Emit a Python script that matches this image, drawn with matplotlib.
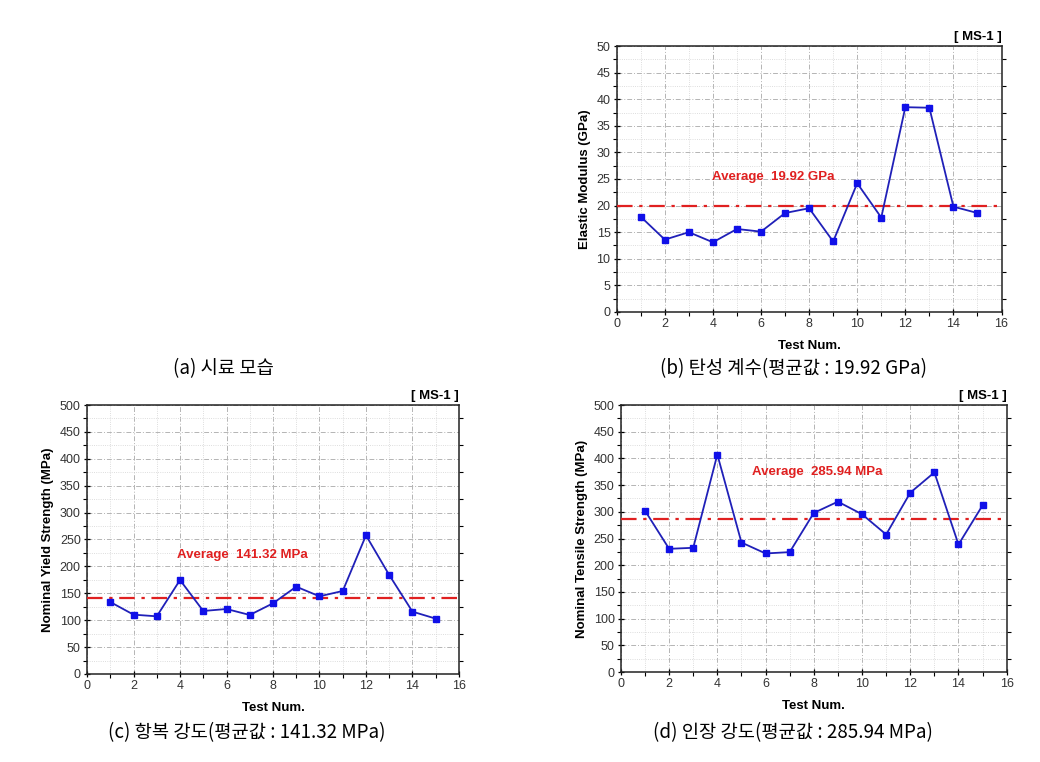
import numpy as np
import matplotlib.pyplot as plt
from matplotlib.ticker import MultipleLocator

plt.rcParams['font.family'] = ['Liberation Sans', 'DejaVu Sans']

# data
test_num = list(range(1, 16))
elastic_gpa = [17.9, 13.6, 15.0, 13.1, 15.6, 15.1, 18.6, 19.5, 13.25, 24.2, 17.75, 38.5, 38.4, 19.8, 18.6]
yield_mpa = [133.8, 110.3, 107.2, 174.7, 117.1, 120.8, 109.7, 131.4, 162.3, 144.4, 154.3, 257.7, 184.0, 115.9, 102.9]
tensile_mpa = [302.2, 230.7, 232.6, 407.3, 242.5, 222.0, 224.5, 297.9, 319.0, 295.4, 257.5, 335.8, 373.8, 238.8, 312.2]
avg_elastic = 19.92
avg_yield = 141.32
avg_tensile = 285.94

captions = ['(a) 시료 모습',
            '(b) 탄성 계수(평균값 : 19.92 GPa)',
            '(c) 항복 강도(평균값 : 141.32 MPa)',
            '(d) 인장 강도(평균값 : 285.94 MPa)']

kfont = ['Noto Sans CJK KR', 'DejaVu Sans']

fig = plt.figure(figsize=(10.4, 7.62), dpi=100)


def panel(rect, values, avg, ymax, ystep, ylabel, avg_text, text_xy):
    ax = fig.add_axes(rect)
    ax.plot(test_num, values, color='#2020b8', lw=1.3, marker='s', ms=5,
            mfc='#1010e8', mec='#1010e8', zorder=4)
    ax.axhline(avg, color='#e02020', lw=1.6, ls=(0, (7, 3, 1.5, 3)), zorder=3)
    ax.set_xlim(0, 16)
    ax.set_ylim(0, ymax)
    ax.xaxis.set_major_locator(MultipleLocator(2))
    ax.xaxis.set_minor_locator(MultipleLocator(1))
    ax.yaxis.set_major_locator(MultipleLocator(ystep))
    ax.yaxis.set_minor_locator(MultipleLocator(ystep / 2))
    ax.grid(which='major', color='#b4b4b4', lw=0.7, ls=(0, (5, 2, 1, 2)))
    ax.grid(which='minor', color='#d2d2d2', lw=0.6, ls=':')
    ax.set_axisbelow(True)
    ax.tick_params(which='major', direction='inout', length=5, width=0.9,
                   labelsize=9, labelcolor='#333333', pad=2)
    ax.tick_params(which='minor', direction='out', length=3, width=0.8)
    ax.tick_params(axis='y', which='minor', right=True)
    for s in ax.spines.values():
        s.set_linewidth(1.1)
        s.set_color('#222222')
    ax.set_xlabel('Test Num.', fontsize=9.5, fontweight='bold', labelpad=7)
    ax.set_ylabel(ylabel, fontsize=9.5, fontweight='bold', labelpad=4)
    ax.text(text_xy[0], text_xy[1], avg_text, color='#e02020', fontsize=9.5,
            fontweight='bold', va='center', ha='left')
    ax.text(1.0, 1.01, '[ MS-1 ]', transform=ax.transAxes, ha='right',
            va='bottom', fontsize=9.5, fontweight='bold')
    return ax


panel([0.593, 0.5906, 0.370, 0.349], elastic_gpa, avg_elastic, 50, 5,
      'Elastic Modulus (GPa)', 'Average  19.92 GPa', (3.98, 25.4))
panel([0.0837, 0.1155, 0.3576, 0.353], yield_mpa, avg_yield, 500, 50,
      'Nominal Yield Strength (MPa)', 'Average  141.32 MPa', (3.86, 221))
panel([0.597, 0.1181, 0.371, 0.3504], tensile_mpa, avg_tensile, 500, 50,
      'Nominal Tensile Strength (MPa)', 'Average  285.94 MPa', (5.44, 374))

cap_pos = [(0.215, 0.516), (0.7625, 0.516), (0.2375, 0.038), (0.7625, 0.038)]
for (cx, cy), cap in zip(cap_pos, captions):
    fig.text(cx, cy, cap, ha='center', va='center', fontsize=13.5,
             family=kfont, fontweight='light')

fig.savefig('out.png', dpi=100)
